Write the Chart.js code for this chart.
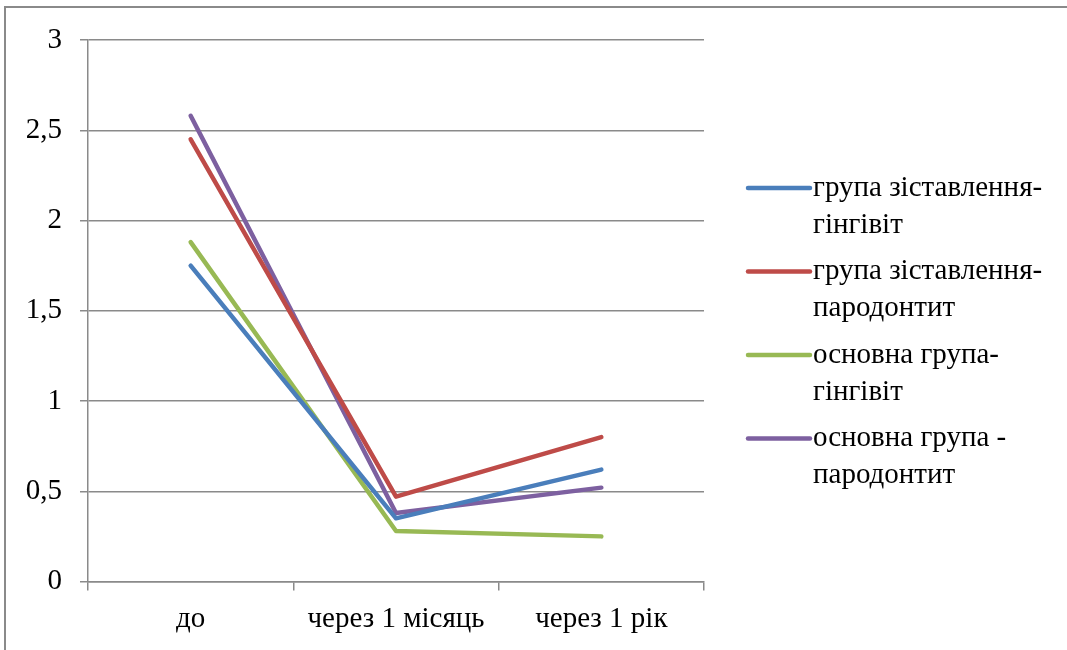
<!DOCTYPE html>
<html>
<head>
<meta charset="utf-8">
<script src="https://cdn.jsdelivr.net/npm/chart.js@4/dist/chart.umd.min.js"></script>
<style>
  html, body { margin: 0; padding: 0; background: #fff; }
  #wrap { position: relative; width: 1067px; height: 650px; overflow: hidden; }
  #frame { position: absolute; left: 4px; top: 6px; width: 1100px; height: 700px;
           border: 2px solid #8a8a8a; box-sizing: border-box; }
  canvas { position: absolute; left: 0; top: 0; }
</style>
</head>
<body>
<div id="wrap">
  <div id="frame"></div>
  <canvas id="c" width="1067" height="650"></canvas>
</div>
<script>
// Time points of the examination
const categories = ['до', 'через 1 місяць', 'через 1 рік'];

// Index values per group
const comparisonGingivitis = [1.75, 0.35, 0.62];
const comparisonPeriodontitis = [2.45, 0.47, 0.80];
const mainGingivitis = [1.88, 0.28, 0.25];
const mainPeriodontitis = [2.58, 0.38, 0.52];

// Legend captions, split over two lines
const seriesLabels = [
  ['група зіставлення-', 'гінгівіт'],
  ['група зіставлення-', 'пародонтит'],
  ['основна група-', 'гінгівіт'],
  ['основна група -', 'пародонтит']
];
const seriesColors = ['#4a7ebb', '#be4b48', '#98b954', '#7d60a0'];

// Y axis range
const yMin = 0, yMax = 3, yStep = 0.5;

const FONT = "'Liberation Serif', 'Times New Roman', serif";

const seriesValues = [comparisonGingivitis, comparisonPeriodontitis, mainGingivitis, mainPeriodontitis];

const datasets = seriesValues.map((vals, i) => ({
  label: seriesLabels[i],
  data: vals,
  borderColor: seriesColors[i],
  backgroundColor: seriesColors[i],
  borderWidth: 4.5,
  pointRadius: 0,
  pointHoverRadius: 0,
  tension: 0,
  fill: false,
  borderCapStyle: 'round',
  borderJoinStyle: 'round'
}));

// Legend drawn to the right of the plot, with two-line captions
const sideLegend = {
  id: 'sideLegend',
  afterDraw(chart) {
    const ctx = chart.ctx;
    const x0 = chart.chartArea.right + 44;
    const lineLen = 62;
    const firstY = 188;
    const itemGap = 83.5;
    const lineGap = 37;
    ctx.save();
    ctx.font = '29px ' + FONT;
    ctx.textBaseline = 'middle';
    ctx.textAlign = 'left';
    chart.data.datasets.forEach((ds, i) => {
      const y = firstY + i * itemGap;
      ctx.strokeStyle = ds.borderColor;
      ctx.lineWidth = 4.5;
      ctx.lineCap = 'round';
      ctx.beginPath();
      ctx.moveTo(x0, y);
      ctx.lineTo(x0 + lineLen, y);
      ctx.stroke();
      ctx.fillStyle = '#000';
      const lines = Array.isArray(ds.label) ? ds.label : [ds.label];
      lines.forEach((t, k) => ctx.fillText(t, x0 + lineLen + 3, y + k * lineGap));
    });
    ctx.restore();
  }
};

new Chart(document.getElementById('c'), {
  type: 'line',
  data: { labels: categories, datasets },
  plugins: [sideLegend],
  options: {
    responsive: false,
    animation: false,
    devicePixelRatio: 1,
    layout: { padding: { top: 40, right: 363, left: 0, bottom: 0 } },
    plugins: { legend: { display: false }, tooltip: { enabled: false } },
    scales: {
      x: {
        offset: true,
        grid: { offset: true, drawOnChartArea: false, drawTicks: true, tickLength: 9, color: '#8a8a8a', lineWidth: 1.5 },
        border: { color: '#8a8a8a', width: 1.5 },
        ticks: { color: '#000', font: { family: FONT, size: 29 }, padding: 11, maxRotation: 0, autoSkip: false },
        afterFit(scale) { scale.height = 68.5; }
      },
      y: {
        min: yMin, max: yMax,
        grid: { color: '#8a8a8a', lineWidth: 1.5, tickLength: 8 },
        border: { color: '#8a8a8a', width: 1.5 },
        ticks: {
          stepSize: yStep, color: '#000', padding: 18,
          font: { family: FONT, size: 29 },
          callback: v => String(v).replace('.', ',')
        },
        afterFit(scale) { scale.width = 88; }
      }
    }
  }
});
</script>
</body>
</html>
